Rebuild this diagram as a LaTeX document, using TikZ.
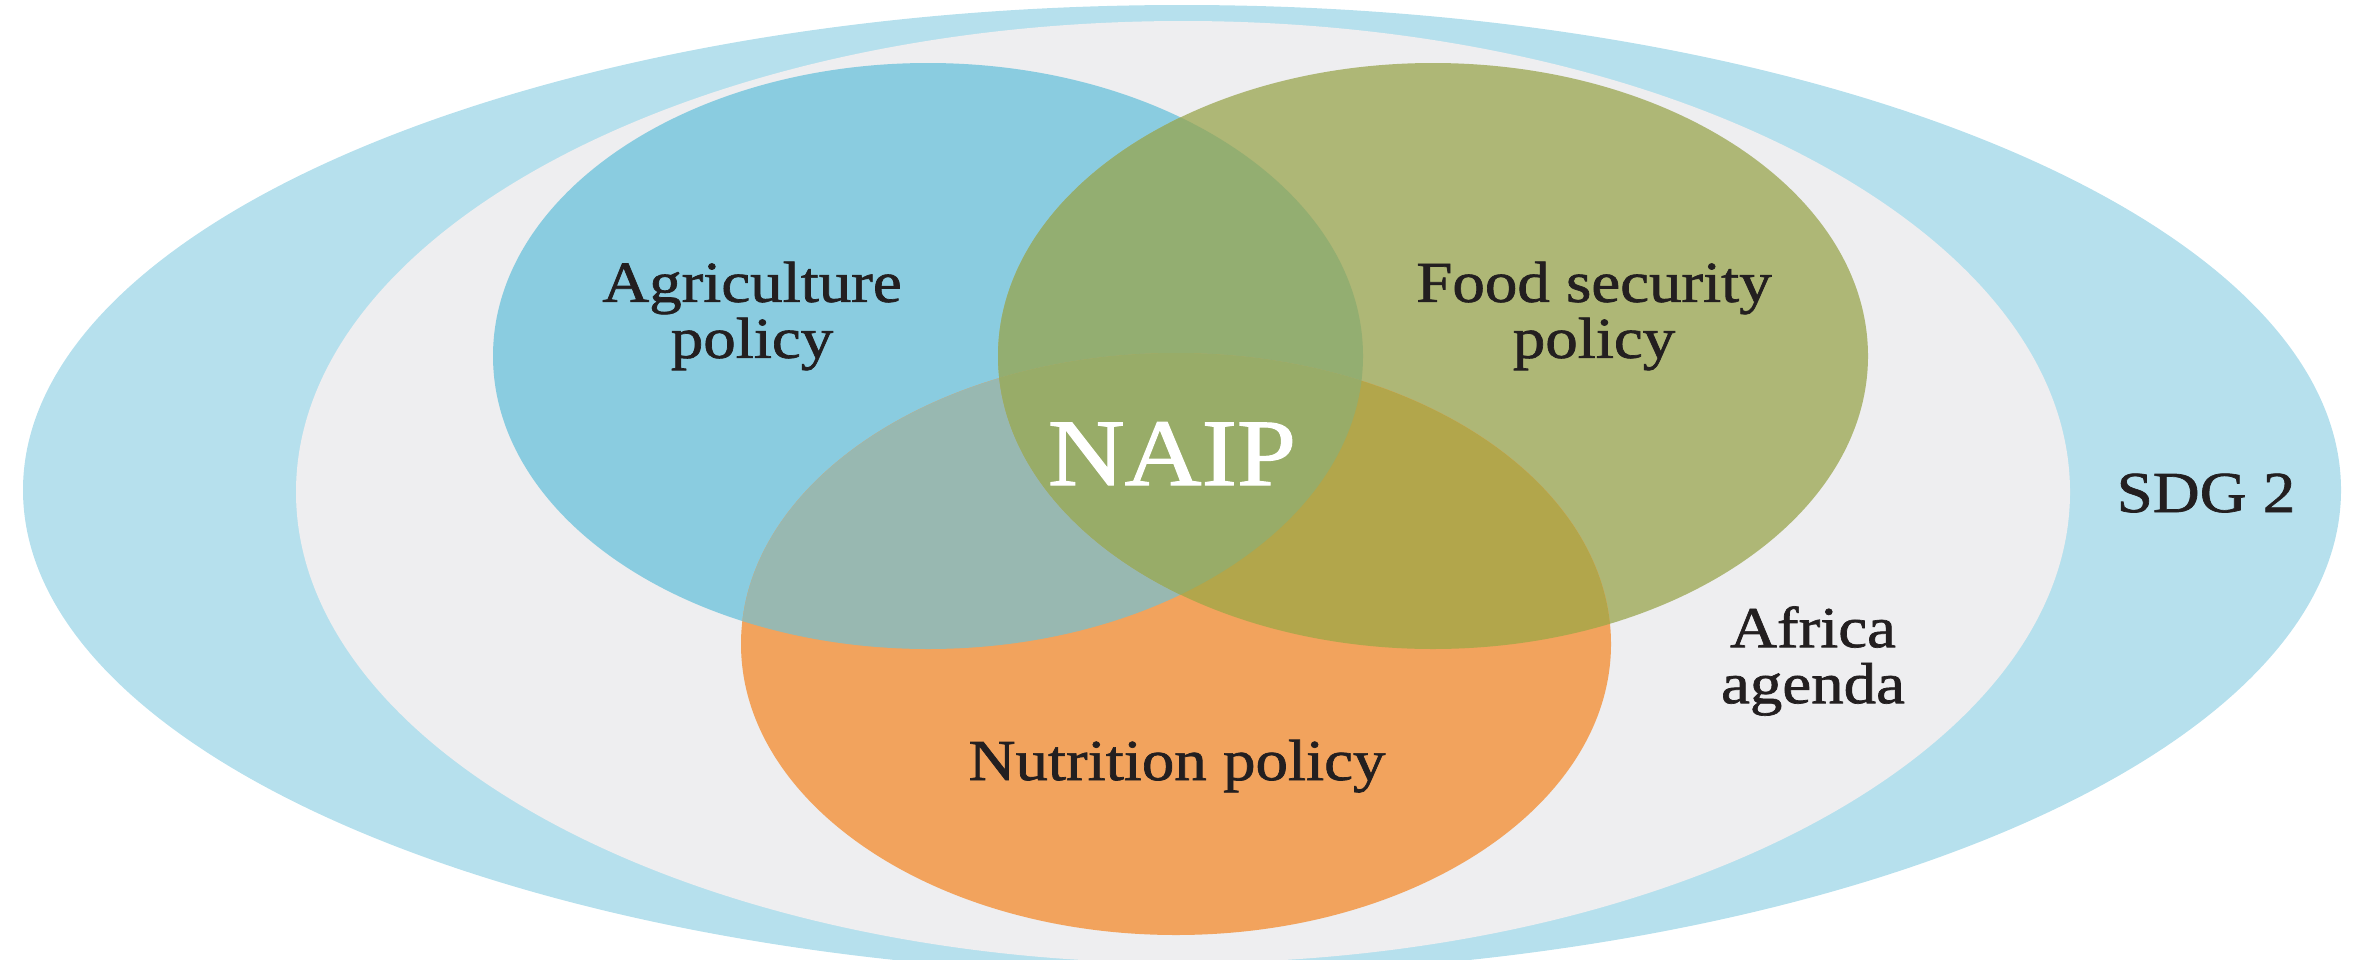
\documentclass[tikz,border=0pt]{standalone}
\usepackage{fontspec}
\setmainfont{Liberation Serif}[FakeStretch=1.12,FakeBold=1.2]
\definecolor{sdgblue}{HTML}{B6E0ED}
\definecolor{agendagrey}{HTML}{EEEEF0}
\definecolor{agriblue}{HTML}{8ACCE0}
\definecolor{foodgreen}{HTML}{AEB776}
\definecolor{nutrorange}{HTML}{F2A35D}
\definecolor{agrifood}{HTML}{93AE71}
\definecolor{agrinutr}{HTML}{98B8B1}
\definecolor{foodnutr}{HTML}{B2A64B}
\definecolor{triple}{HTML}{98AC68}
\definecolor{txtdark}{HTML}{231F20}
\def\venA{(928,356) ellipse [x radius=435, y radius=293]}
\def\venB{(1433,356) ellipse [x radius=435, y radius=293]}
\def\venC{(1176,644) ellipse [x radius=435, y radius=291]}
\tikzset{
  lbl/.style={text=txtdark, font=\fontsize{58}{56}\selectfont, align=center, inner sep=0pt},
  biglbl/.style={text=white, font=\fontsize{95}{95}\selectfont, inner sep=0pt}
}
\begin{document}
\begin{tikzpicture}[x=1pt,y=-1pt]
\useasboundingbox (0,0) rectangle (2357,959);
% outer SDG 2 and inner Africa agenda
\fill[sdgblue] (1182,490) ellipse [x radius=1159, y radius=485];
\fill[agendagrey] (1183,492) ellipse [x radius=887, y radius=471];
% three policy sets
\fill[agriblue] \venA;
\fill[foodgreen] \venB;
\fill[nutrorange] \venC;
\begin{scope}\clip \venA; \fill[agrifood] \venB; \end{scope}
\begin{scope}\clip \venA; \fill[agrinutr] \venC; \end{scope}
\begin{scope}\clip \venB; \fill[foodnutr] \venC; \end{scope}
\begin{scope}\clip \venA; \clip \venB; \fill[triple] \venC; \end{scope}
% labels
\node[lbl] (agri) at (752,316) {Agriculture\\policy};
\node[lbl] (food) at (1594,316) {Food security\\policy};
\node[lbl, anchor=base] (nutr) at (1177,780) {Nutrition policy};
\node[biglbl, anchor=base] (naip) at (1172,485) {NAIP};
\node[lbl] (africa) at (1813,661) {Africa\\agenda};
\node[lbl, anchor=base] (sdg) at (2206,512) {SDG 2};
\end{tikzpicture}
\end{document}
